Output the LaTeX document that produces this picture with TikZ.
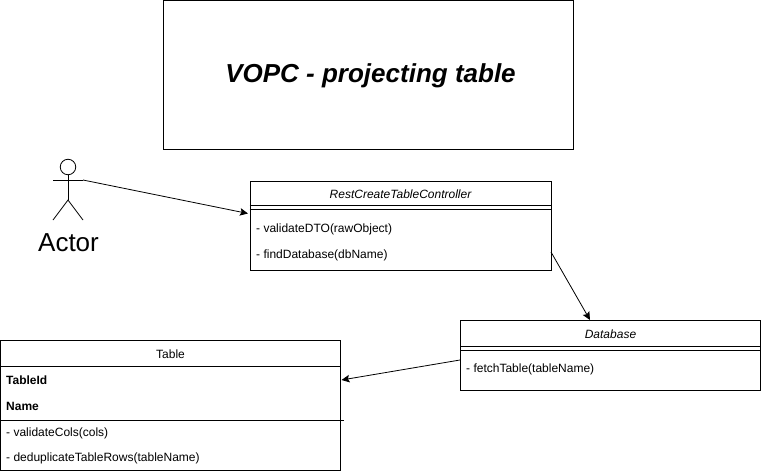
\documentclass[tikz,border=0pt]{standalone}
\usepackage{fontspec}
\setmainfont{Liberation Sans}
\usepackage{tikz}
\usetikzlibrary{arrows.meta,positioning,calc}

\begin{document}
\begin{tikzpicture}[
    x=1pt, y=-1pt,
    node distance=0pt,
    classbox/.style={rectangle, draw, line width=0.8pt, inner sep=0pt, anchor=north west},
    titletext/.style={inner sep=0pt, font=\fontsize{26}{30}\selectfont\bfseries\itshape},
    header/.style={font=\fontsize{12}{14}\selectfont\itshape, inner sep=0pt},
    member/.style={font=\fontsize{12}{14}\selectfont, inner sep=0pt, anchor=west},
    field/.style={member, font=\fontsize{12}{14}\selectfont\bfseries},
    divider/.style={line width=0.8pt},
    arrow/.style={-{Stealth[length=8pt,width=7.5pt,inset=1.5pt]}, line width=0.8pt}
]
\useasboundingbox (0,0) rectangle (761,474);

% Title
\node[classbox, minimum width=410pt, minimum height=149.5pt] (title) at (163,-0.5) {};
\node[titletext] (titlename) at (370.5,75.5) {VOPC - projecting table};

% Actor
\node[draw, circle, line width=0.8pt, minimum size=15.5pt, inner sep=0pt] (head) at (68,167) {};
\coordinate (hip) at (68,200);
\coordinate (armL) at (53,180);
\coordinate (armR) at (83,180);
\coordinate (footL) at (53,220);
\coordinate (footR) at (83,220);
\draw[divider] (head) -- (hip);
\draw[divider] (armL) -- (armR);
\draw[divider] (footL) -- (hip) -- (footR);
\node[font=\fontsize{26}{30}\selectfont, inner sep=0pt] (actor) at (68.5,243) {Actor};

% Classes
\node[classbox, minimum width=301pt, minimum height=89pt] (rest) at (249.5,180.5) {};
\node[header] (restname) at (400.5,194) {RestCreateTableController};
\draw[divider] ($(rest.north west)+(0,25)$) -- ($(rest.north east)+(0,25)$);
\draw[divider] ($(rest.north west)+(0,29)$) -- ($(rest.north east)+(0,29)$);
\node[member] (validate) at (256,229) {- validateDTO(rawObject)};
\node[member] (find) at (256,255) {- findDatabase(dbName)};

\node[classbox, minimum width=299.5pt, minimum height=69.5pt] (database) at (460,320) {};
\node[header] (dbname) at (610.5,334) {Database};
\draw[divider] ($(database.north west)+(0,26)$) -- ($(database.north east)+(0,26)$);
\draw[divider] ($(database.north west)+(0,30)$) -- ($(database.north east)+(0,30)$);
\node[member] (fetch) at (466,369) {- fetchTable(tableName)};

\node[classbox, minimum width=340pt, minimum height=130pt] (table) at (0,340) {};
\node[header, font=\fontsize{12}{14}\selectfont] (tablename) at (170.5,354) {Table};
\draw[divider] ($(table.north west)+(0,26)$) -- ($(table.north east)+(0,26)$);
\node[field] (tableid) at (6,380) {TableId};
\node[field] (name) at (6,406) {Name};
\coordinate (divR) at (343.5,420.5);
\draw[divider] (table.west |- divR) -- (divR);
\node[member] (cols) at (6,433) {- validateCols(cols)};
\node[member] (rows) at (6,458) {- deduplicateTableRows(tableName)};

% Arrows
\coordinate (restin) at (248,213.5);
\coordinate (restout) at (551,252);
\coordinate (dbin) at (590,320);
\coordinate (dbout) at (460,360);
\coordinate (tablein) at (341.5,380);
\draw[arrow] (armR) -- (restin);
\draw[arrow] (restout) -- (dbin);
\draw[arrow] (dbout) -- (tablein);

\end{tikzpicture}
\end{document}
